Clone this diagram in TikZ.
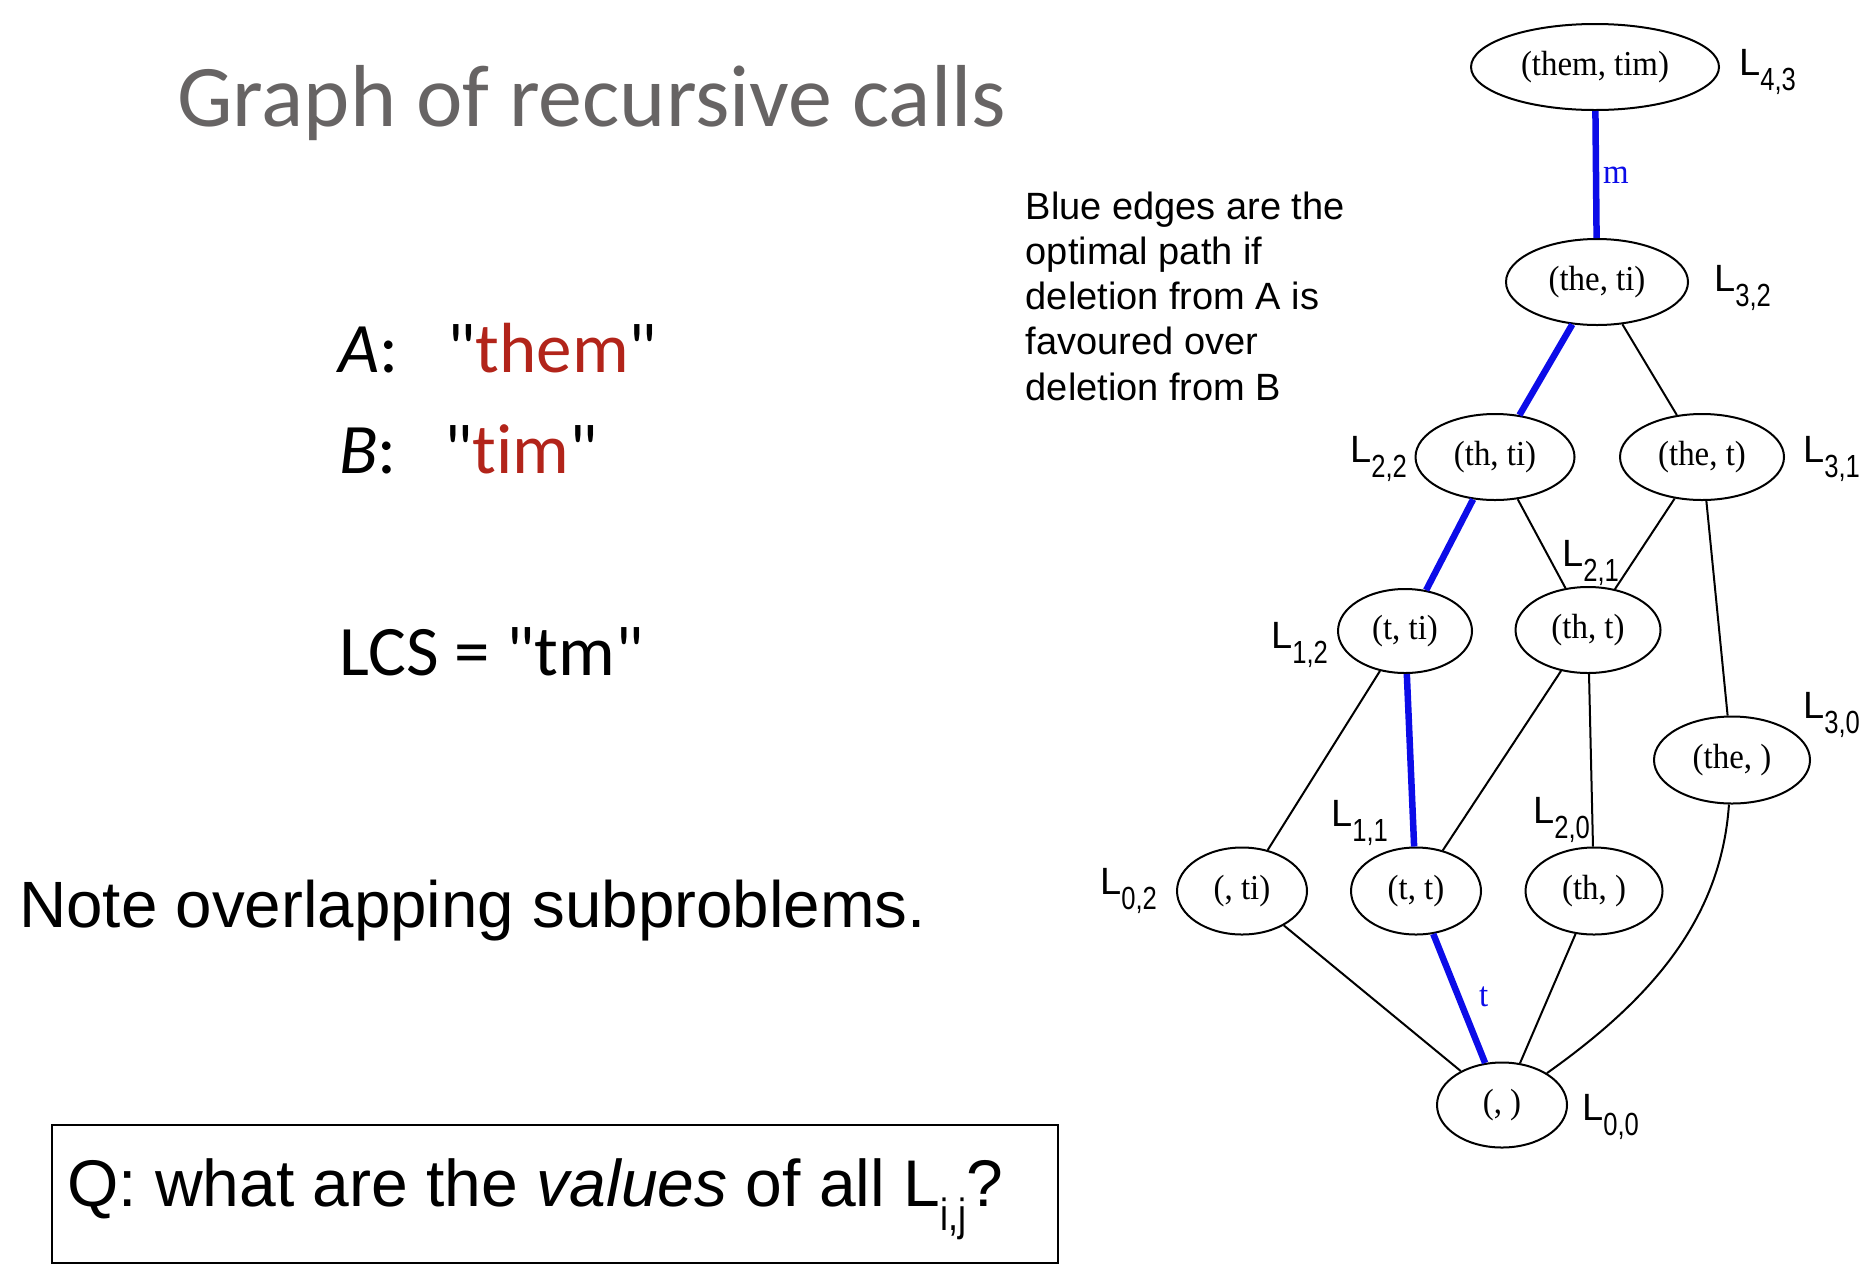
\documentclass[tikz,border=0pt]{standalone}
\usepackage{fontspec}
\setmainfont{Liberation Sans}
\newfontfamily\calib[Ligatures=NoCommon]{Carlito}
\newfontfamily\gvfont[FakeStretch=0.94]{Liberation Serif}
\newfontfamily\subfont[FakeStretch=0.8]{Liberation Sans}
\usetikzlibrary{shapes.geometric}
\definecolor{eblue}{RGB}{12,12,232}
\definecolor{tgray}{RGB}{103,100,100}
\definecolor{tred}{RGB}{178,36,26}
\newcommand\sq{\XeTeXglyph\XeTeXcharglyph"22\relax}
\newcommand\Lbl[1]{{\fontsize{38}{38}\selectfont L}{\subfont\fontsize{32}{32}\selectfont\raisebox{-15pt}{#1}}}
\begin{document}
\begin{tikzpicture}[x=1pt,y=-1pt,
  gv/.style={ellipse, draw, line width=2pt, inner sep=0pt, font=\gvfont\fontsize{35}{35}\selectfont},
  edgeb/.style={line width=2pt},
  edgeblue/.style={line width=6.5pt, draw=eblue},
  lab/.style={anchor=base west, inner sep=0pt},
  elab/.style={anchor=base west, inner sep=0pt, text=eblue, font=\gvfont\fontsize{35}{35}\selectfont},
  txt/.style={anchor=base west, inner sep=0pt}]
\useasboundingbox (0,0) rectangle (1870,1286);
% left texts
\node[txt, text=tgray, font=\calib\fontsize{88}{88}\selectfont] (title) at (177,126) {Graph of recursive calls};
\node[txt, font=\calib\fontsize{71}{71}\selectfont] (a) at (338,372) {\textit{A}:};
\node[txt, font=\calib\fontsize{71}{71}\selectfont] (astr) at (447,372) {\sq\textcolor{tred}{them}\sq};
\node[txt, font=\calib\fontsize{71}{71}\selectfont] (b) at (339,473) {\textit{B}:};
\node[txt, font=\calib\fontsize{71}{71}\selectfont] (bstr) at (444,473) {\sq\textcolor{tred}{tim}\sq};
\node[txt, font=\calib\fontsize{71}{71}\selectfont] (lcs) at (339,675) {LCS = \sq tm\sq};
\node[txt, font=\fontsize{65.5}{65.5}\selectfont] (note) at (19,927) {Note overlapping subproblems.};
\node[draw, line width=2pt, minimum width=1006pt, minimum height=138pt, anchor=north west, inner sep=0pt] (qbox) at (51,1124) {};
\node[txt, font=\fontsize{66}{66}\selectfont] (qtext) at (67,1206) {Q: what are the \textit{values} of all L{\subfont\fontsize{45}{45}\selectfont\raisebox{-24pt}{i,j}}?};
% explanation
\node[txt, font=\fontsize{38}{38}\selectfont] (e1) at (1025.6,219) {Blue edges are the};
\node[txt, font=\fontsize{38}{38}\selectfont] (e2) at (1025.6,264.25) {optimal path if};
\node[txt, font=\fontsize{38}{38}\selectfont] (e3) at (1025.6,309.5) {deletion from A is};
\node[txt, font=\fontsize{38}{38}\selectfont] (e4) at (1025.6,354.75) {favoured over};
\node[txt, font=\fontsize{38}{38}\selectfont] (e5) at (1025.6,400) {deletion from B};
% graph nodes
\node[gv, minimum width=248pt, minimum height=86pt] (n43) at (1595,67) {(them, tim)};
\node[gv, minimum width=182pt, minimum height=86pt] (n32) at (1597,282) {(the, ti)};
\node[gv, minimum width=159pt, minimum height=86pt] (n22) at (1495,457) {(th, ti)};
\node[gv, minimum width=164pt, minimum height=86pt] (n31) at (1702,457) {(the, t)};
\node[gv, minimum width=134pt, minimum height=84pt] (n12) at (1405,631) {(t, ti)};
\node[gv, minimum width=145pt, minimum height=86pt] (n21) at (1588,630) {(th, t)};
\node[gv, minimum width=156pt, minimum height=87pt] (n30) at (1732,760) {(the, )};
\node[gv, minimum width=130pt, minimum height=87pt] (n02) at (1242,891) {(, ti)};
\node[gv, minimum width=130pt, minimum height=87pt] (n11) at (1416,891) {(t, t)};
\node[gv, minimum width=137pt, minimum height=87pt] (n20) at (1594,891) {(th, )};
\node[gv, minimum width=130pt, minimum height=85pt] (n00) at (1502,1105) {(, )};
% edges
\draw[edgeblue] (n43) -- (n32);
\draw[edgeblue] (n32) -- (n22);
\draw[edgeb] (n32) -- (n31);
\draw[edgeblue] (n22) -- (n12);
\draw[edgeb] (n22) -- (n21);
\draw[edgeb] (n31) -- (n21);
\draw[edgeb] (n31) -- (n30);
\draw[edgeb] (n12) -- (n02);
\draw[edgeblue] (n12) -- (n11);
\draw[edgeb] (n21) -- (n11);
\draw[edgeb] (n21) -- (n20);
\draw[edgeb] (n02) -- (n00);
\draw[edgeblue] (n11) -- (n00);
\draw[edgeb] (n20) -- (n00);
\draw[edgeb] (n30) .. controls (1721,920) and (1650,1000) .. (n00);
\node[elab] (lm) at (1603,183.3) {m};
\node[elab] (lt) at (1479,1006) {t};
% L labels
\node[lab] (l43) at (1739,75.8) {\Lbl{4,3}};
\node[lab] (l32) at (1714,291.7) {\Lbl{3,2}};
\node[lab] (l22) at (1350,462.5) {\Lbl{2,2}};
\node[lab] (l31) at (1803,462.5) {\Lbl{3,1}};
\node[lab] (l21) at (1562,566.7) {\Lbl{2,1}};
\node[lab] (l12) at (1271,648) {\Lbl{1,2}};
\node[lab] (l30) at (1803,718.7) {\Lbl{3,0}};
\node[lab] (l11) at (1331,826) {\Lbl{1,1}};
\node[lab] (l20) at (1533,823.3) {\Lbl{2,0}};
\node[lab] (l02) at (1100,894.7) {\Lbl{0,2}};
\node[lab] (l00) at (1582,1120) {\Lbl{0,0}};
\end{tikzpicture}
\end{document}
